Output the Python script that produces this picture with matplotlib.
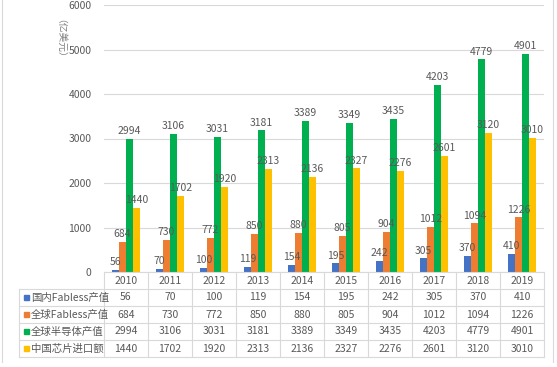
import matplotlib.pyplot as plt
from matplotlib.patches import Rectangle
import numpy as np

plt.rcParams['font.family'] = ['Noto Sans CJK SC', 'DejaVu Sans']

years = ["2010", "2011", "2012", "2013", "2014", "2015", "2016", "2017", "2018", "2019"]
guonei_fabless = [56, 70, 100, 119, 154, 195, 242, 305, 370, 410]
quanqiu_fabless = [684, 730, 772, 850, 880, 805, 904, 1012, 1094, 1226]
quanqiu_bandaoti = [2994, 3106, 3031, 3181, 3389, 3349, 3435, 4203, 4779, 4901]
zhongguo_jinkou = [1440, 1702, 1920, 2313, 2136, 2327, 2276, 2601, 3120, 3010]

series_names = ["国内Fabless产值", "全球Fabless产值", "全球半导体产值", "中国芯片进口额"]
series = [guonei_fabless, quanqiu_fabless, quanqiu_bandaoti, zhongguo_jinkou]
colors = ["#4472C4", "#ED7D31", "#00B050", "#FFC000"]

W, H = 557, 367
fig = plt.figure(figsize=(W / 100, H / 100), dpi=100)
fig.patch.set_facecolor("white")

txt = "#595959"
grid = "#D9D9D9"

# plot area in pixels
px_l, px_r, px_t, px_b = 104, 544, 5, 272
ax = fig.add_axes([px_l / W, 1 - px_b / H, (px_r - px_l) / W, (px_b - px_t) / H])

n = len(years)
x = np.arange(n)
bw = 0.16
for k, (vals, c) in enumerate(zip(series, colors)):
    xs = x + (k - 1.5) * bw
    ax.bar(xs, vals, width=bw, color=c, zorder=3)
    for xi, v in zip(xs, vals):
        ax.annotate(str(v), (xi, v), xytext=(0, 2), textcoords="offset points",
                    ha="center", va="bottom", fontsize=7.5, color=txt, zorder=4)

ax.set_xlim(-0.5, n - 0.5)
ax.set_ylim(0, 6000)
ax.set_yticks(range(0, 6001, 1000))
ax.tick_params(axis="y", length=0, labelsize=7.5, labelcolor=txt, pad=9)
ax.set_xticks([])
ax.grid(axis="y", color=grid, linewidth=0.8, zorder=0)
for s in ax.spines.values():
    s.set_visible(False)

fig.text(55 / W, 1 - 43 / H, "（亿美元）", rotation=270, ha="center", va="center",
         fontsize=7, color="#7F7F7F")

# data table drawn below the axes
tab = fig.add_axes([0, 0, 1, 1])
tab.set_xlim(0, W)
tab.set_ylim(H, 0)
tab.axis("off")

lab_l = 19
cw = (px_r - px_l) / n
row_y = [272, 289, 306, 323, 340, 357]
lw = 0.8

# grid lines of the table
tab.plot([px_l, px_r], [row_y[0], row_y[0]], color=grid, lw=lw)
for i in range(n + 1):
    tab.plot([px_l + i * cw] * 2, [row_y[0], row_y[-1]], color=grid, lw=lw)
tab.plot([lab_l, lab_l], [row_y[1], row_y[-1]], color=grid, lw=lw)
for j in range(1, len(row_y)):
    tab.plot([lab_l, px_r], [row_y[j], row_y[j]], color=grid, lw=lw)

for i, yr in enumerate(years):
    tab.text(px_l + (i + 0.5) * cw, (row_y[0] + row_y[1]) / 2, yr, ha="center",
             va="center", fontsize=7.5, color=txt)

for r, (name, vals, c) in enumerate(zip(series_names, series, colors)):
    yc = (row_y[r + 1] + row_y[r + 2]) / 2
    tab.add_patch(Rectangle((lab_l + 5, yc - 2.5), 5, 5, color=c))
    tab.text(lab_l + 12, yc, name, ha="left", va="center", fontsize=7.5, color=txt)
    for i, v in enumerate(vals):
        tab.text(px_l + (i + 0.5) * cw, yc, str(v), ha="center", va="center",
                 fontsize=7.5, color=txt)

# chart frame
tab.plot([2, 2], [0, 362], color=grid, lw=lw)
tab.plot([553, 553], [0, 362], color=grid, lw=lw)

fig.savefig("out.png", dpi=100, facecolor="white")
